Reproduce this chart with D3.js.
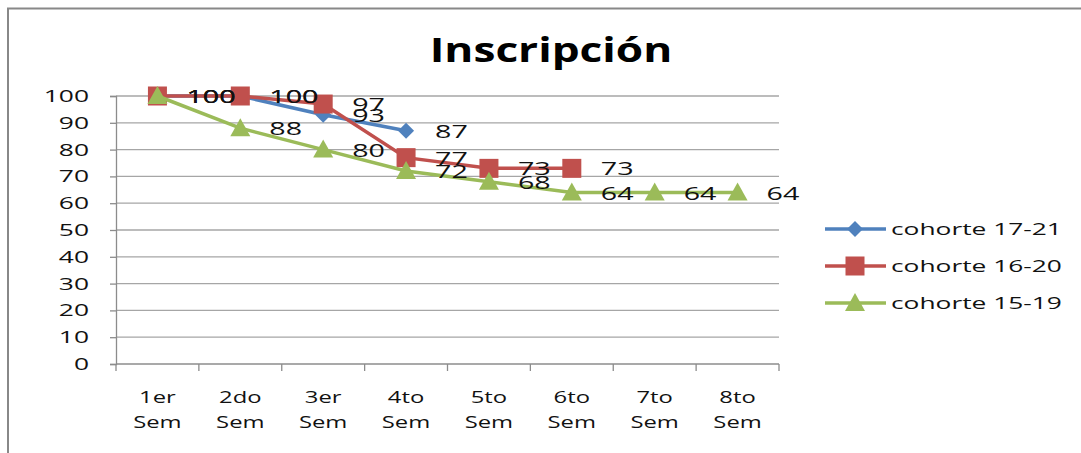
<!DOCTYPE html>
<html><head><meta charset="utf-8">
<script src="https://cdn.jsdelivr.net/npm/d3@7"></script>
<style>body{margin:0;background:#fff}svg{display:block}text{font-family:"Open Sans","Liberation Sans",sans-serif}</style>
</head><body>
<svg id="c" width="1081" height="453"></svg>
<script>
const categories = [["1er","Sem"],["2do","Sem"],["3er","Sem"],["4to","Sem"],["5to","Sem"],["6to","Sem"],["7to","Sem"],["8to","Sem"]];
const seriesNames = ["cohorte 17-21","cohorte 16-20","cohorte 15-19"];
const cohorte1721 = [100,100,93,87];
const cohorte1620 = [100,100,97,77,73,73];
const cohorte1519 = [100,88,80,72,68,64,64,64];
const yTicks = [0,10,20,30,40,50,60,70,80,90,100];
const colors = ["#4F81BD","#C0504D","#9BBB59"];
const markers = ["diamond","square","triangle"];

const svg = d3.select("#c");
// horizontally stretch text around its anchor x
function stretch(sel, f){
  sel.each(function(){
    const t = d3.select(this);
    const ax = +t.attr("x") || 0;
    t.attr("transform", `translate(${ax*(1-f)},0) scale(${f},1)`);
  });
  return sel;
}

// frame
svg.append("path").attr("d","M8,453 L8,8.5 L1081,8.5").attr("fill","none").attr("stroke","#888").attr("stroke-width",2);

stretch(svg.append("text").attr("x",551).attr("y",62).attr("text-anchor","middle")
  .attr("font-size",34).attr("font-weight","bold").attr("fill","#000").text("Inscripción"), 1.3);

const L=116, R=779, T=96, B=364;
const x = d3.scaleBand().domain(d3.range(categories.length)).range([L,R]);
const y = d3.scaleLinear().domain([0,100]).range([B,T]);

// grid
svg.append("g").selectAll("line").data(yTicks.filter(d=>d>0)).join("line")
  .attr("x1",L).attr("x2",R).attr("y1",d=>y(d)).attr("y2",d=>y(d))
  .attr("stroke","#a6a6a6").attr("stroke-width",1.3);

// y axis
const ya = svg.append("g").attr("transform",`translate(${L},0)`)
  .call(d3.axisLeft(y).tickValues(yTicks).tickSize(6).tickFormat(""));
ya.select(".domain").attr("stroke","#8c8c8c").attr("stroke-width",1.3);
ya.selectAll(".tick line").attr("stroke","#8c8c8c").attr("stroke-width",1.3);
stretch(svg.append("g").selectAll("text").data(yTicks).join("text")
  .attr("x",89).attr("y",d=>y(d)).attr("dy","0.36em").attr("text-anchor","end")
  .attr("font-size",16.5).attr("fill","#111").text(d=>d), 1.6);

// x axis
const xa = svg.append("g").attr("transform",`translate(0,${B})`);
xa.append("line").attr("x1",L).attr("x2",R).attr("stroke","#8c8c8c").attr("stroke-width",1.3);
const bounds = d3.range(categories.length+1).map(i=> i<categories.length ? x(i) : x(categories.length-1)+x.bandwidth());
xa.selectAll("line.t").data(bounds).join("line").attr("class","t")
  .attr("x1",d=>d).attr("x2",d=>d).attr("y1",0).attr("y2",7).attr("stroke","#8c8c8c").attr("stroke-width",1.3);
const xl = xa.selectAll("text").data(categories).join("text")
  .attr("x",(d,i)=>x(i)+x.bandwidth()/2).attr("text-anchor","middle")
  .attr("font-size",17).attr("fill","#111");
xl.append("tspan").attr("x",(d,i)=>x(i)+x.bandwidth()/2).attr("y",39).text(d=>d[0]);
xl.append("tspan").attr("x",(d,i)=>x(i)+x.bandwidth()/2).attr("y",64).text(d=>d[1]);
stretch(xl, 1.4);

function marker(g, type, color, cx, cy){
  if(type==="diamond"){
    g.append("path").attr("d",`M${cx},${cy-8}L${cx+8},${cy}L${cx},${cy+8}L${cx-8},${cy}Z`).attr("fill",color);
  } else if(type==="square"){
    g.append("rect").attr("x",cx-9.5).attr("y",cy-9.5).attr("width",19).attr("height",19).attr("fill",color);
  } else {
    g.append("path").attr("d",`M${cx},${cy-10}L${cx+10},${cy+8}L${cx-10},${cy+8}Z`).attr("fill",color);
  }
}

const all = [cohorte1721,cohorte1620,cohorte1519];
const cx = i=>x(i)+x.bandwidth()/2;
const line = d3.line().x((d,i)=>cx(i)).y(d=>y(d));
all.forEach((vals,k)=>{
  const g = svg.append("g");
  g.append("path").datum(vals).attr("d",line).attr("fill","none").attr("stroke",colors[k]).attr("stroke-width",3.5);
  vals.forEach((v,i)=>marker(g,markers[k],colors[k],cx(i),y(v)));
});
all.forEach((vals,k)=>{
  stretch(svg.append("g").selectAll("text").data(vals).join("text")
    .attr("x",(d,i)=>cx(i)+29).attr("y",d=>y(d)).attr("dy","0.38em")
    .attr("font-size",18.5).attr("fill","#111").text(d=>d), 1.55);
});

// legend
const lg = svg.append("g");
seriesNames.forEach((n,k)=>{
  const ly = 229 + k*37;
  lg.append("line").attr("x1",825).attr("x2",886).attr("y1",ly).attr("y2",ly).attr("stroke",colors[k]).attr("stroke-width",3.5);
  marker(lg,markers[k],colors[k],855,ly);
  stretch(lg.append("text").attr("x",891).attr("y",ly).attr("dy","0.36em").attr("font-size",17).attr("fill","#111").text(n), 1.55);
});
</script>
</body></html>
